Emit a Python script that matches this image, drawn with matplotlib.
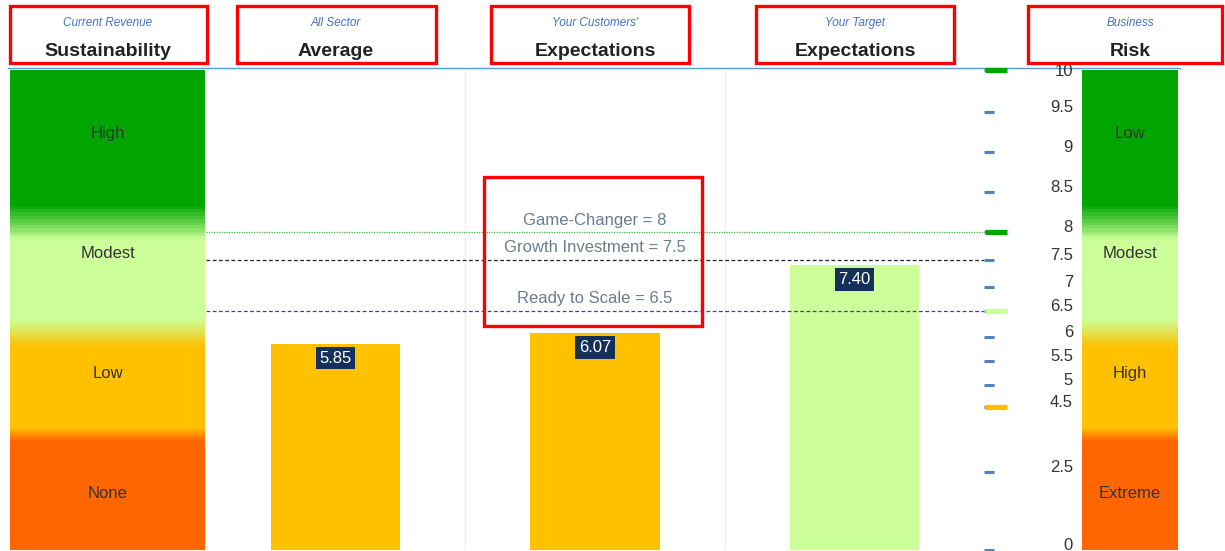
import numpy as np
import matplotlib
matplotlib.use("Agg")
import matplotlib.pyplot as plt
import matplotlib.transforms as mtransforms
from matplotlib.colors import LinearSegmentedColormap
from matplotlib.patches import Rectangle
from matplotlib.lines import Line2D

plt.rcParams["font.family"] = ["Liberation Sans", "DejaVu Sans"]

# =========================
# Data
# =========================
header_sub = ["Current Revenue", "All Sector", "Your Customers'", "Your Target", "Business"]
header_main = ["Sustainability", "Average", "Expectations", "Expectations", "Risk"]

bar_names = ["All Sector Average", "Customers' Expectations", "Target Expectations"]
bar_values = [5.85, 6.07, 7.40]
bar_colors = ["#ffc000", "#ffc000", "#ccff99"]

threshold_names = ["Game-Changer", "Growth Investment", "Ready to Scale"]
threshold_values = [8, 7.5, 6.5]
threshold_colors = ["#3cb43c", "#222222", "#3a3ac8"]
threshold_styles = [(0, (1, 1)), (0, (3, 2)), (0, (3, 2))]

left_bands = ["High", "Modest", "Low", "None"]
right_bands = ["Low", "Modest", "High", "Extreme"]

tick_values = [0, 2.5, 4.5, 5, 5.5, 6, 6.5, 7, 7.5, 8, 8.5, 9, 9.5, 10]
band_marks = [10, 8, 6.5, 4.5]
band_mark_colors = ["#00a500", "#00a500", "#ccff99", "#ffc000"]

# piecewise scale of the value axis (pixel height above zero for each tick)
scale_px = [0, 78, 143, 165, 189, 213, 239, 263, 290, 318, 358, 398, 438, 480]

# colour bands of the gradient columns (value, colour)
band_stops = [(0, "#ff6600"), (3.45, "#ff6600"), (3.85, "#ffc000"),
              (5.8, "#ffc000"), (6.35, "#ccff99"), (7.9, "#ccff99"),
              (8.35, "#00a500"), (10, "#00a500")]

# =========================
# Figure
# =========================
W, H = 1225, 551
fig = plt.figure(figsize=(W / 100, H / 100), dpi=100)


def fx(px):
    return px / W


def fy(py):
    return 1 - py / H


def fwd(v):
    return np.interp(v, tick_values, scale_px)


def inv(p):
    return np.interp(p, scale_px, tick_values)


ax = fig.add_axes([fx(206), fy(550), fx(984 - 206), 480 / H])
ax.set_yscale("function", functions=(fwd, inv))
ax.set_ylim(0, 10)
ax.set_xlim(-0.5, 2.5)

ax_l = fig.add_axes([fx(10), fy(550), fx(195), 480 / H], sharey=ax)
ax_r = fig.add_axes([fx(1082), fy(550), fx(96), 480 / H], sharey=ax)

band_cmap = LinearSegmentedColormap.from_list(
    "bands", [(v / 10, c) for v, c in band_stops])

yy = np.linspace(0, 10, 601)
cc = (yy[:-1] + yy[1:]) / 2
label_shift = mtransforms.ScaledTranslation(0, -0.035, fig.dpi_scale_trans)
for a, labels in [(ax_l, left_bands), (ax_r, right_bands)]:
    a.pcolormesh([0, 1], yy, cc[:, None], cmap=band_cmap, vmin=0, vmax=10,
                 shading="flat", edgecolors="none", antialiased=False)
    a.set_xlim(0, 1)
    a.set_xticks([])
    for i, lab in enumerate(labels):
        a.text(0.5, 1 - (2 * i + 1) / 8, lab, transform=a.transAxes + label_shift,
               ha="center", va="center", fontsize=12, color="#333333")
    for s in a.spines.values():
        s.set_visible(False)

# main bars
for x in [0.5, 1.5, 2.5]:
    ax.axvline(x, color="#f0f0f0", lw=1, zorder=0)

xs = np.arange(len(bar_values))
ax.bar(xs, bar_values, width=0.5, color=bar_colors, zorder=2)

for x, v in zip(xs, bar_values):
    ax.annotate(f"{v:.2f}", xy=(x, v), xytext=(0, -14), textcoords="offset pixels",
                ha="center", va="center", fontsize=12, color="white", zorder=4,
                bbox=dict(boxstyle="square,pad=0.22", fc="#12305a", ec="none"))

for name, v, c, ls in zip(threshold_names, threshold_values, threshold_colors, threshold_styles):
    ax.axhline(v, color=c, ls=ls, lw=0.9, zorder=3)
    ax.annotate(f"{name} = {v:g}", xy=(1, v), xytext=(0, 12), textcoords="offset pixels",
                ha="center", va="center", fontsize=12, color="#6b7c8d", zorder=4)

# value axis
ax.set_yticks(tick_values)
ax.set_yticklabels([f"{v:g}" for v in tick_values])
ax.set_xticks([])
ax.tick_params(axis="y", left=False, labelleft=False, right=True, labelright=False,
               length=7.2, width=2.2, color="#4f81bd", direction="out")
ax_l.tick_params(axis="y", left=False, labelleft=False, right=False, labelright=False)
ax_r.tick_params(axis="y", left=False, labelleft=True, right=False, labelright=False,
                 length=0, pad=6.5, labelsize=12, labelcolor="#333333")
for lab, v in zip(ax_r.get_yticklabels(), tick_values):
    lab.set_verticalalignment("center_baseline" if v == 10 else "baseline")
for s in ax.spines.values():
    s.set_visible(False)

trans = mtransforms.blended_transform_factory(ax.transAxes, ax.transData)
shift = mtransforms.ScaledTranslation(0.12, 0, fig.dpi_scale_trans)
for v, c in zip(band_marks, band_mark_colors):
    ax.plot([1], [v], marker="_", ms=16, mew=3.8, color=c,
            transform=trans + shift, clip_on=False, zorder=5)

# =========================
# Headers and boxes
# =========================
header_centers = [108, 336, 595, 855, 1130]
header_boxes = [(10, 207), (237, 436), (491, 689), (756, 954), (1028, 1222)]

for cx, sub, main in zip(header_centers, header_sub, header_main):
    fig.text(fx(cx), fy(23), sub, ha="center", va="center", fontsize=8.5,
             style="italic", color="#4472c4")
    fig.text(fx(cx), fy(52), main, ha="center", va="center", fontsize=14,
             weight="bold", color="#222222")

for x0, x1 in header_boxes:
    fig.add_artist(Rectangle((fx(x0), fy(63)), fx(x1 - x0), 57 / H,
                             transform=fig.transFigure, fill=False,
                             ec="#ff0000", lw=2.4))

fig.add_artist(Rectangle((fx(484), fy(326)), fx(702 - 484), (326 - 177) / H,
                         transform=fig.transFigure, fill=False,
                         ec="#ff0000", lw=2.4, zorder=6))

fig.add_artist(Line2D([fx(8), fx(1180)], [fy(68), fy(68)],
                      transform=fig.transFigure, color="#5b9bd5", lw=1, zorder=-1))

fig.savefig("out.png", dpi=100)
